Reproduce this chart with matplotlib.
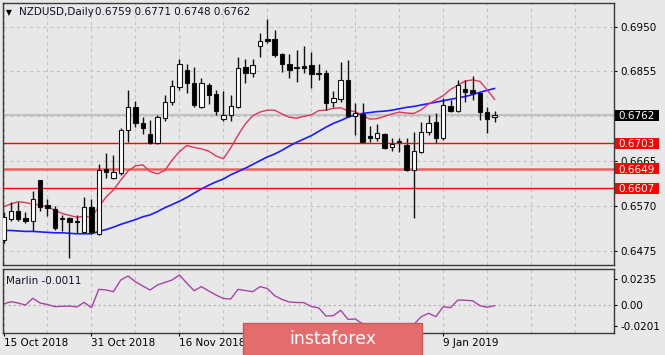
import matplotlib
matplotlib.use('Agg')
import matplotlib.pyplot as plt
from matplotlib.patches import Rectangle
import matplotlib.transforms as mtransforms

# ---------------- data ----------------
opens = [0.6498, 0.6542, 0.6559, 0.6545, 0.6538, 0.6625, 0.6573, 0.6563, 0.6545, 0.6545,
         0.6539, 0.6515, 0.6568, 0.6510, 0.6648, 0.6629, 0.6639, 0.6731, 0.6779, 0.6745,
         0.6722, 0.6703, 0.6757, 0.6791, 0.6823, 0.6858, 0.6831, 0.6780, 0.6826, 0.6807,
         0.6754, 0.6763, 0.6779, 0.6865, 0.6852, 0.6910, 0.6923, 0.6923, 0.6893, 0.6871,
         0.6864, 0.6867, 0.6869, 0.6851, 0.6851, 0.6791, 0.6796, 0.6838, 0.6761, 0.6764,
         0.6718, 0.6713, 0.6723, 0.6694, 0.6708, 0.6699, 0.6646, 0.6684, 0.6727, 0.6747,
         0.6713, 0.6781, 0.6772, 0.6818, 0.6816, 0.6809, 0.6769, 0.6759]
highs = [0.6557, 0.6579, 0.6578, 0.6558, 0.6602, 0.6626, 0.6584, 0.6570, 0.6551, 0.6547,
         0.6551, 0.6589, 0.6584, 0.6659, 0.6683, 0.6678, 0.6735, 0.6816, 0.6792, 0.6759,
         0.6752, 0.6763, 0.6805, 0.6837, 0.6881, 0.6871, 0.6865, 0.6841, 0.6831, 0.6816,
         0.6814, 0.6805, 0.6885, 0.6881, 0.6881, 0.6936, 0.6966, 0.6943, 0.6895, 0.6893,
         0.6901, 0.6909, 0.6897, 0.6871, 0.6858, 0.6814, 0.6876, 0.6879, 0.6788, 0.6788,
         0.6739, 0.6743, 0.6724, 0.6713, 0.6715, 0.6713, 0.6727, 0.6747, 0.6763, 0.6766,
         0.6798, 0.6795, 0.6838, 0.6837, 0.6845, 0.6810, 0.6780, 0.6771]
lows = [0.6491, 0.6538, 0.6539, 0.6533, 0.6517, 0.6560, 0.6549, 0.6518, 0.6517, 0.6459,
        0.6512, 0.6512, 0.6511, 0.6509, 0.6630, 0.6628, 0.6636, 0.6706, 0.6738, 0.6722,
        0.6702, 0.6702, 0.6749, 0.6784, 0.6816, 0.6810, 0.6780, 0.6777, 0.6786, 0.6763,
        0.6749, 0.6749, 0.6777, 0.6831, 0.6844, 0.6885, 0.6915, 0.6886, 0.6853, 0.6841,
        0.6833, 0.6851, 0.6819, 0.6837, 0.6773, 0.6780, 0.6791, 0.6759, 0.6720, 0.6703,
        0.6706, 0.6708, 0.6691, 0.6686, 0.6685, 0.6645, 0.6544, 0.6682, 0.6720, 0.6703,
        0.6710, 0.6770, 0.6770, 0.6791, 0.6795, 0.6752, 0.6724, 0.6748]
closes = [0.6547, 0.6559, 0.6542, 0.6538, 0.6584, 0.6568, 0.6566, 0.6523, 0.6542, 0.6537,
          0.6537, 0.6568, 0.6515, 0.6646, 0.6643, 0.6641, 0.6732, 0.6779, 0.6746, 0.6735,
          0.6703, 0.6759, 0.6791, 0.6824, 0.6871, 0.6831, 0.6784, 0.6830, 0.6805, 0.6772,
          0.6763, 0.6782, 0.6862, 0.6851, 0.6869, 0.6920, 0.6919, 0.6891, 0.6871, 0.6858,
          0.6862, 0.6863, 0.6849, 0.6849, 0.6789, 0.6798, 0.6838, 0.6761, 0.6768, 0.6706,
          0.6713, 0.6724, 0.6692, 0.6701, 0.6705, 0.6646, 0.6686, 0.6726, 0.6745, 0.6715,
          0.6783, 0.6772, 0.6826, 0.6812, 0.6809, 0.6769, 0.6754, 0.6762]
red_ma = [0.6568, 0.6574, 0.6579, 0.6577, 0.6574, 0.6572, 0.6568, 0.6561, 0.6554, 0.6550,
          0.6546, 0.6548, 0.6546, 0.6568, 0.6589, 0.6604, 0.6625, 0.6644, 0.6655, 0.6657,
          0.6643, 0.6638, 0.6645, 0.6667, 0.6685, 0.6698, 0.6694, 0.6691, 0.6686, 0.6676,
          0.6670, 0.6693, 0.6720, 0.6744, 0.6761, 0.6769, 0.6773, 0.6773, 0.6765, 0.6758,
          0.6756, 0.6760, 0.6763, 0.6772, 0.6773, 0.6777, 0.6778, 0.6772, 0.6770, 0.6762,
          0.6754, 0.6755, 0.6760, 0.6765, 0.6769, 0.6767, 0.6766, 0.6774, 0.6786, 0.6795,
          0.6804, 0.6817, 0.6826, 0.6835, 0.6837, 0.6834, 0.6816, 0.6796]
blue_ma = [0.6518, 0.6518, 0.6517, 0.6516, 0.6516, 0.6515, 0.6514, 0.6513, 0.6513, 0.6512,
           0.6511, 0.6511, 0.6511, 0.6516, 0.6520, 0.6525, 0.6531, 0.6536, 0.6541, 0.6547,
           0.6551, 0.6558, 0.6566, 0.6573, 0.6580, 0.6588, 0.6597, 0.6606, 0.6614, 0.6621,
           0.6627, 0.6636, 0.6643, 0.6650, 0.6658, 0.6666, 0.6674, 0.6680, 0.6688, 0.6697,
           0.6705, 0.6712, 0.6719, 0.6728, 0.6737, 0.6745, 0.6751, 0.6758, 0.6763, 0.6766,
           0.6768, 0.6770, 0.6771, 0.6773, 0.6776, 0.6779, 0.6781, 0.6784, 0.6787, 0.6790,
           0.6793, 0.6796, 0.6799, 0.6802, 0.6806, 0.6811, 0.6815, 0.6819]
marlin = [0.0005, 0.0026, 0.0014, -0.0005, 0.0058, 0.0014, 0.0000, -0.0020, -0.0017, -0.0014,
          -0.0023, 0.0020, -0.0030, 0.0141, 0.0135, 0.0119, 0.0228, 0.0265, 0.0212, 0.0172,
          0.0135, 0.0181, 0.0205, 0.0228, 0.0274, 0.0200, 0.0128, 0.0166, 0.0126, 0.0088,
          0.0056, 0.0051, 0.0141, 0.0130, 0.0119, 0.0166, 0.0149, 0.0082, 0.0047, 0.0023,
          0.0019, 0.0017, -0.0019, -0.0031, -0.0107, -0.0104, -0.0054, -0.0138, -0.0135, -0.0180,
          -0.0195, -0.0205, -0.0215, -0.0210, -0.0200, -0.0215, -0.0184, -0.0113, -0.0082, -0.0113,
          -0.0020, -0.0030, 0.0042, 0.0039, 0.0035, -0.0011, -0.0026, -0.0011]

date_labels = ['15 Oct 2018', '31 Oct 2018', '16 Nov 2018', '9 Jan 2019']
date_label_bars = [0, 12, 24, 60]
price_ticks = [0.6475, 0.6570, 0.6665, 0.6760, 0.6855, 0.6950]
price_tick_labels = ['0.6475', '0.6570', '0.6665', '', '0.6855', '0.6950']
levels = [0.6703, 0.6649, 0.6607]
level_labels = ['0.6703', '0.6649', '0.6607']
last_price = 0.6762
last_label = '0.6762'
marlin_ticks = [-0.0201, 0.0, 0.0235]
marlin_tick_labels = ['-0.0201', '0.00', '0.0235']
title_symbol = 'NZDUSD,Daily'
title_ohlc = '0.6759 0.6771 0.6748 0.6762'
marlin_title = 'Marlin -0.0011'

# ---------------- layout ----------------
W, H = 665, 355
fig = plt.figure(figsize=(W / 100, H / 100), dpi=100)
bg = '#e8e8e8'
fig.patch.set_facecolor(bg)
plt.rcParams['font.family'] = ['DejaVu Sans']

ax = fig.add_axes([3 / W, 1 - 265 / H, 611 / W, 262 / H])
ax2 = fig.add_axes([3 / W, 1 - 333.3 / H, 611 / W, 64.8 / H])
for a in (ax, ax2):
    a.set_facecolor(bg)
    for s in a.spines.values():
        s.set_color('#3a3a3a')
        s.set_linewidth(1.0)

n = len(opens)
xs = list(range(n))
xlim = (-0.07, 83.3)
grid_kw = dict(color='#c4c4c4', lw=0.8, ls=(0, (3, 3)), zorder=0.5)

# main panel
ax.set_xlim(*xlim)
ax.set_ylim(0.64448, 0.70002)
for gx in range(0, 84, 6):
    ax.axvline(gx, **grid_kw)
    ax2.axvline(gx, **grid_kw)
for gy in price_ticks:
    ax.axhline(gy, **grid_kw)

ax.axhline(last_price, color='#c2c2c2', lw=1.6, zorder=0.8)

ax.axhline(levels[0], color='#ff0000', lw=1.0, zorder=2)
ax.axhline(levels[1], color='#f26060', lw=1.8, zorder=2)
ax.axhline(levels[2], color='#ff0000', lw=1.0, zorder=2)

ax.plot(xs, blue_ma, color='#1c1cff', lw=1.2, zorder=2.2)
ax.plot(xs, red_ma, color='#e0365c', lw=1.0, zorder=2.3)

body_w = 0.6
for i in range(n):
    o, h, l, c = opens[i], highs[i], lows[i], closes[i]
    ax.vlines(i, l, h, color='#111111', lw=1.0, zorder=3)
    lo, hi = min(o, c), max(o, c)
    hgt = max(hi - lo, 0.00004)
    fc = '#ffffff' if c >= o else '#000000'
    ax.add_patch(Rectangle((i - body_w / 2, lo), body_w, hgt, facecolor=fc,
                           edgecolor='#111111', lw=0.8, zorder=3.5))

ax.set_xticks([])
ax.yaxis.tick_right()
ax.set_yticks(price_ticks)
ax.set_yticklabels(price_tick_labels)
ax.tick_params(axis='y', direction='out', length=2.2, width=0.8, pad=2.2,
               labelsize=7.5, colors='#000000')

# price boxes on the right
blend = mtransforms.blended_transform_factory(ax.transAxes, ax.transData)
yspan = 0.70002 - 0.64448
px = yspan / 262.0
box_h = 11 * px
axw = 611.0


def price_box(val, txt, fc):
    ax.add_patch(Rectangle((1 + 1 / axw, val - box_h / 2), 44 / axw, box_h,
                           transform=blend, clip_on=False, facecolor=fc,
                           edgecolor='none', zorder=6))
    ax.text(1 + 4.5 / axw, val, txt, transform=blend, clip_on=False, color='white',
            fontsize=7.5, ha='left', va='center_baseline', zorder=7)


for lv, lb in zip(levels, level_labels):
    price_box(lv, lb, '#ff0000')
price_box(last_price, last_label, '#000000')

# lower panel
ax2.set_xlim(*xlim)
ax2.set_ylim(-0.02678, 0.03348)
ax2.axhline(0.0, color='#b8b8b8', lw=0.9, ls=(0, (2, 2)), zorder=0.6)
ax2.plot(xs, marlin, color='#a844a8', lw=1.0, zorder=2)
ax2.yaxis.tick_right()
ax2.set_yticks(marlin_ticks)
ax2.set_yticklabels(marlin_tick_labels)
ax2.tick_params(axis='y', direction='out', length=2.2, width=0.8, pad=2.2,
                labelsize=7.5, colors='#000000')
ax2.set_xticks(date_label_bars)
ax2.set_xticklabels(date_labels, ha='left')
ax2.tick_params(axis='x', direction='out', length=2.2, width=0.8, pad=1.2,
                labelsize=7.5, colors='#000000')

# titles
fig.text(6 / W, 1 - 12.5 / H, '\u25bc', fontsize=5.5, color='#000000', va='center', ha='left')
fig.text(19 / W, 1 - 12.3 / H, title_symbol, fontsize=7.5, color='#10102a', va='center', ha='left')
fig.text(95 / W, 1 - 12.3 / H, title_ohlc, fontsize=7.5, color='#10102a', va='center', ha='left')
fig.text(6 / W, 1 - 281 / H, marlin_title, fontsize=7.5, color='#10102a', va='center', ha='left')

# logo
logo = Rectangle((243 / W, 0), 179 / W, 32 / H, transform=fig.transFigure,
                 facecolor='#e46c6c', edgecolor='#c95a5a', lw=1.0, zorder=20)
fig.patches.append(logo)
fig.text(332.5 / W, 1 - 339 / H, 'instaforex', fontsize=12.5, color='white',
         ha='center', va='center', zorder=21)

fig.savefig('out.png', dpi=100, facecolor=bg)
